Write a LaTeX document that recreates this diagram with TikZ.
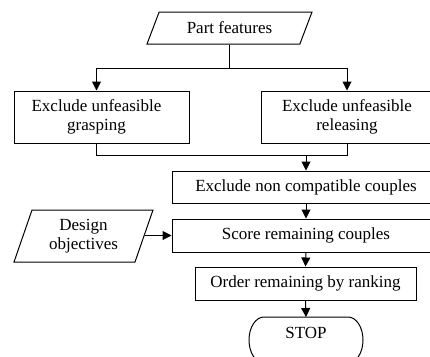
\documentclass[tikz,border=0pt]{standalone}
\usepackage{fontspec}
\setmainfont{Liberation Serif}
\usetikzlibrary{shapes.geometric,arrows.meta}
\begin{document}
\begin{tikzpicture}[x=1pt,y=-1pt,
  every node/.style={font=\fontsize{17}{19}\selectfont},
  box/.style={draw, line width=1pt, align=center, inner sep=0pt},
  io/.style={trapezium, draw, line width=1pt, trapezium stretches body, align=center, inner sep=0pt},
  arr/.style={-{Triangle[length=9pt,width=9pt]}, line width=1pt},
  ln/.style={line width=1pt}]
\useasboundingbox (0,0) rectangle (430,356);
\clip (0,0) rectangle (430,356);
\node[io, trapezium left angle=45, trapezium right angle=135, minimum width=165, minimum height=32] (pf) at (229.5,28) {Part features};
\node[box, minimum width=175, minimum height=52] (g) at (101.5,117) {Exclude unfeasible\hspace*{10pt}\\grasping\hspace*{10pt}};
\node[box, minimum width=172, minimum height=52] (r) at (347,117) {Exclude unfeasible\\releasing};
\node[box, minimum width=268, minimum height=32] (ex) at (306,187) {Exclude non compatible couples};
\node[box, minimum width=268, minimum height=33] (sc) at (306,235.5) {Score remaining couples};
\node[io, trapezium left angle=62, trapezium right angle=118, minimum width=139, minimum height=52] (do) at (83.5,236) {Design\\objectives};
\node[box, minimum width=221, minimum height=33] (or) at (305.5,283.5) {Order remaining by ranking};
\node[minimum width=114, minimum height=46, inner sep=0pt, outer sep=0pt, anchor=north] (stop) at (306,317) {};
\draw[ln] ([xshift=15pt]stop.north west) -- ([xshift=-15pt]stop.north east)
  arc[start angle=-90, end angle=90, x radius=15, y radius=23]
  -- ([xshift=15pt]stop.south west)
  arc[start angle=90, end angle=270, x radius=15, y radius=23];
\node (stoptxt) at (306,333) {STOP};
\draw[ln] (pf.south) -- ++(0,24) coordinate (split);
\draw[arr] (split) -| ([xshift=-5pt]g.north);
\draw[arr] (split) -| (r.north);
\draw[ln] ([xshift=-5pt]g.south) -- ++(0,12) coordinate (join) -| (r.south);
\draw[arr] (ex.north |- join) -- (ex.north);
\draw[arr] (ex.south) -- (sc.north);
\draw[arr] (do.east |- sc.west) -- (sc.west);
\draw[arr] (sc.south) -- (or.north);
\draw[arr] (or.south) -- (stop.north);
\end{tikzpicture}
\end{document}
